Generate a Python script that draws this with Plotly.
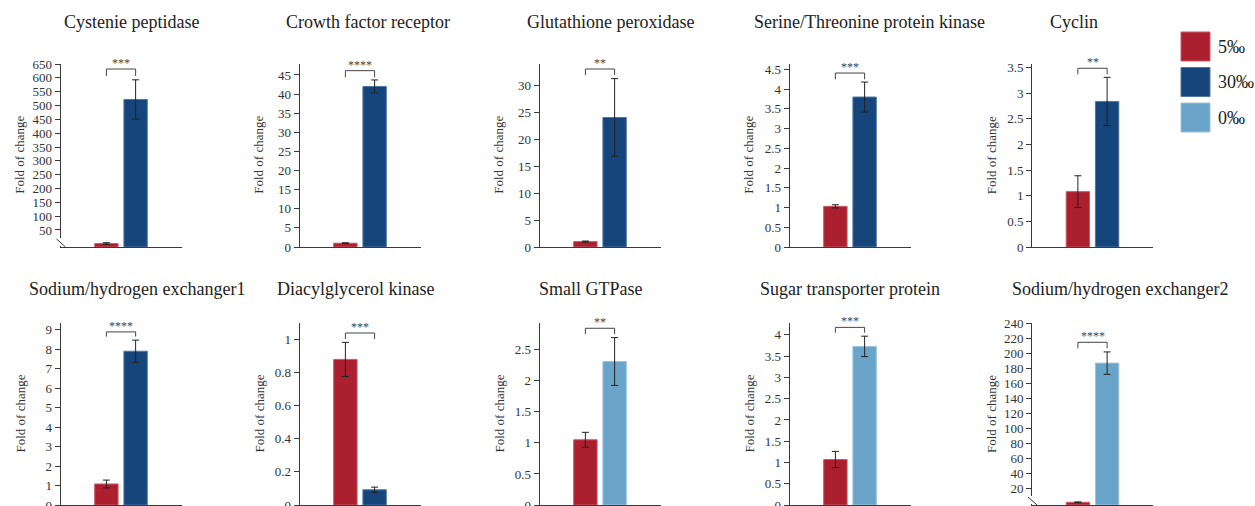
import plotly.graph_objects as go

W, H = 1255, 506

# ---------------- data ----------------
genes = [
    "Cystenie peptidase", "Crowth factor receptor", "Glutathione peroxidase",
    "Serine/Threonine protein kinase", "Cyclin",
    "Sodium/hydrogen exchanger1", "Diacylglycerol kinase", "Small GTPase",
    "Sugar transporter protein", "Sodium/hydrogen exchanger2",
]
ctrl_group = "5‰"
treat_groups = ["30‰", "30‰", "30‰", "30‰", "30‰", "30‰", "30‰", "0‰", "0‰", "0‰"]
ctrl_vals = [1.0, 1.0, 1.0, 1.03, 1.08, 1.08, 0.88, 1.05, 1.07, 1.0]
ctrl_err = [3.0, 0.1, 0.1, 0.04, 0.31, 0.2, 0.103, 0.12, 0.19, 0.5]
treat_vals = [522, 42.0, 24.0, 3.80, 2.84, 7.90, 0.092, 2.31, 3.73, 187.3]
treat_err = [71, 1.7, 7.2, 0.38, 0.47, 0.57, 0.016, 0.385, 0.24, 15]
stars = ["***", "****", "**", "***", "**", "****", "***", "**", "***", "****"]
legend_labels = ["5‰", "30‰", "0‰"]

# ---------------- style ----------------
COLORS = {"5‰": "#AC1F2E", "30‰": "#15457B", "0‰": "#6AA4C9"}
EDGE = {"5‰": "#C75A66", "30‰": "#4F77A3", "0‰": "#9CC3DC"}
FONT = "Liberation Serif"
AX = "#3a3a3a"

col_x0 = [60.5, 299.5, 539.5, 789.5, 1032]
ax_w = 121
row_px = [(63.5, 247.0), (323.0, 505.0)]

# axis settings per panel: (range, tickvals or dtick, broken)
yspec = [
    dict(range=[-11.6, 652], tickvals=list(range(50, 651, 50)), broken=True),
    dict(range=[0, 48], dtick=5),
    dict(range=[0, 34], dtick=5),
    dict(range=[0, 4.65], dtick=0.5),
    dict(range=[0, 3.58], dtick=0.5),
    dict(range=[0, 9.35], dtick=1),
    dict(range=[0, 1.1], dtick=0.2),
    dict(range=[0, 2.93], dtick=0.5),
    dict(range=[0, 4.28], dtick=0.5),
    dict(range=[-2.6, 241], tickvals=list(range(20, 241, 20)), broken=True),
]
bracket_top = [0.970, 0.961, 0.970, 0.948, 0.974, 0.951, 0.945, 0.971, 0.976, 0.894]
bracket_leg = [0.932, 0.925, 0.937, 0.914, 0.941, 0.925, 0.912, 0.938, 0.947, 0.861]
title_px = [(131.5, 22), (367.6, 22), (610, 22), (869, 22), (1074, 22),
            (137, 289), (355, 289), (591, 289), (850, 289), (1120, 289)]

fig = go.Figure()
layout = dict(
    width=W, height=H, margin=dict(l=0, r=0, t=0, b=0, pad=0), autosize=False,
    paper_bgcolor="white", plot_bgcolor="white", showlegend=False,
    font=dict(family=FONT, color="#333", size=13),
    bargap=0.2,
)
shapes, annos = [], []

for i, gene in enumerate(genes):
    r, c = divmod(i, 5)
    n = i + 1
    xa = "x" if n == 1 else f"x{n}"
    ya = "y" if n == 1 else f"y{n}"
    xk = "xaxis" if n == 1 else f"xaxis{n}"
    yk = "yaxis" if n == 1 else f"yaxis{n}"
    top_px, bot_px = row_px[r]
    xd = [col_x0[c] / W, (col_x0[c] + ax_w) / W]
    yd = [1 - bot_px / H, 1 - top_px / H]
    spec = yspec[i]
    broken = spec.get("broken", False)
    floor = spec["range"][0]
    tg = treat_groups[i]

    for grp, val, err in [(ctrl_group, ctrl_vals[i], ctrl_err[i]), (tg, treat_vals[i], treat_err[i])]:
        kw = {}
        yv = val
        if broken:
            kw["base"] = [floor]
            yv = val - floor
        fig.add_trace(go.Bar(
            x=[grp], y=[yv], xaxis=xa, yaxis=ya, width=0.8,
            marker=dict(color=COLORS[grp], line=dict(color=EDGE[grp], width=1)),
            error_y=dict(type="data", array=[err], visible=True, color="#222",
                         thickness=1, width=3.5),
            name=grp, **kw))

    layout[xk] = dict(domain=xd, anchor=ya, type="category",
                      categoryorder="array", categoryarray=[ctrl_group, tg],
                      range=[-1.57, 2.57], showline=True, linecolor=AX, linewidth=1,
                      showticklabels=False, ticks="", showgrid=False, zeroline=False,
                      fixedrange=True, automargin=False)
    yax = dict(domain=yd, anchor=xa, range=spec["range"], showline=True,
               linecolor=AX, linewidth=1, ticks="outside", ticklen=5, tickwidth=1,
               tickcolor=AX, showgrid=False, zeroline=False, automargin=False,
               ticklabeloverflow="allow",
               tickfont=dict(family=FONT, size=13, color="#333"), fixedrange=True)
    if "tickvals" in spec:
        yax["tickvals"] = spec["tickvals"]
    else:
        yax["tick0"] = 0
        yax["dtick"] = spec["dtick"]
    layout[yk] = yax

    # significance bracket
    ydr = f"{ya} domain"
    for x0, x1, y0, y1 in [(ctrl_group, tg, bracket_top[i], bracket_top[i]),
                           (ctrl_group, ctrl_group, bracket_leg[i], bracket_top[i]),
                           (tg, tg, bracket_leg[i], bracket_top[i])]:
        shapes.append(dict(type="line", xref=xa, yref=ydr, x0=x0, x1=x1, y0=y0, y1=y1,
                           line=dict(color="#444", width=1)))
    annos.append(dict(text=stars[i], xref=f"{xa} domain", yref=ydr, x=0.5,
                      y=bracket_top[i], xanchor="center", yanchor="bottom", yshift=-3,
                      showarrow=False, font=dict(family=FONT, size=12, color="#444")))

    # axis break mark
    if broken:
        shapes.append(dict(type="line", xref=f"{xa} domain", yref=ydr, x0=0, x1=0,
                           ysizemode="pixel", yanchor=0, y0=1, y1=9,
                           line=dict(color="white", width=3), layer="above"))
        shapes.append(dict(type="line", xref=f"{xa} domain", yref=ydr,
                           xsizemode="pixel", xanchor=0, x0=-4, x1=5,
                           ysizemode="pixel", yanchor=0, y0=8, y1=0,
                           line=dict(color=AX, width=1), layer="above"))

    # y title
    annos.append(dict(text="Fold of change", xref=f"{xa} domain", yref=ydr, x=0, y=0.5,
                      xshift=-41, textangle=-90, showarrow=False, xanchor="center",
                      yanchor="middle", font=dict(family=FONT, size=13, color="#333")))
    # panel title
    tx, ty = title_px[i]
    annos.append(dict(text=gene, xref="paper", yref="paper", x=tx / W, y=1 - ty / H,
                      xanchor="center", yanchor="middle", showarrow=False,
                      font=dict(family=FONT, size=18, color="#222")))

# legend (drawn manually to match large swatches)
for k, lab in enumerate(legend_labels):
    y0p, y1p = 32 + k * 35.5, 61 + k * 35.5
    shapes.append(dict(type="rect", xref="paper", yref="paper",
                       x0=1181 / W, x1=1210 / W, y0=1 - y1p / H, y1=1 - y0p / H,
                       fillcolor=COLORS[lab], line=dict(color=EDGE[lab], width=1)))
    annos.append(dict(text=lab, xref="paper", yref="paper", x=1216 / W,
                      y=1 - (y0p + y1p) / 2 / H, xanchor="left", yanchor="middle",
                      showarrow=False, font=dict(family=FONT, size=18, color="#222")))

layout["shapes"] = shapes
layout["annotations"] = annos
fig.update_layout(**layout)
fig.write_html(
    "out.html",
    config={"displayModeBar": False},
    post_script="document.body.style.margin='0px';document.body.style.overflow='hidden';",
)
